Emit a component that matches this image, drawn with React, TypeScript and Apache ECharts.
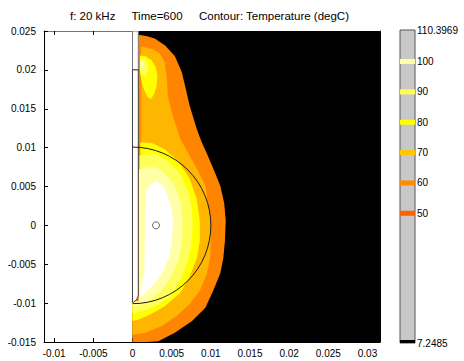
import React, { useEffect, useRef } from 'react';
import * as echarts from 'echarts';

const FONT = '"Liberation Sans", Arial, sans-serif';

// Axes
const xRange = [-0.0113, 0.0316];
const yRange = [-0.015, 0.025];
const xTicks = [-0.01, -0.005, 0, 0.005, 0.01, 0.015, 0.02, 0.025, 0.03];
const yInterval = 0.005;

// Colour bar
const cbRange = [7.2485, 110.3969];
const cbLabels = [7.2485, 50, 60, 70, 80, 90, 100, 110.3969];
const levels = [50, 60, 70, 80, 90, 100];
const levelColors = ['#ff6000', '#ff8c00', '#ffc800', '#ffff00', '#ffff55', '#ffffa5'];

// Filled bands (>=50, >=60, >=70, >=80, >=90, >=100)
const bandColors = ['#ff8400', '#ffb600', '#ffff00', '#ffff5c', '#ffffa8', '#ffffff'];

// Geometry (metres)
const domainRect = [[0, -0.016], [0.04, -0.016], [0.04, 0.026], [0, 0.026]];
const contour50 = [
  [0, 0.0244], [0.0010, 0.0245], [0.0020, 0.0243], [0.0029, 0.0240], [0.0042, 0.0231],
  [0.0054, 0.0218], [0.0063, 0.0197], [0.0067, 0.0180], [0.0073, 0.0154], [0.0082, 0.0124],
  [0.0088, 0.0108], [0.0096, 0.0090], [0.0104, 0.0071], [0.0112, 0.0051], [0.0117, 0.0029],
  [0.0119, 0.0006], [0.0118, -0.0020], [0.0116, -0.0042], [0.0112, -0.0062], [0.0103, -0.0084],
  [0.0093, -0.0106], [0.0076, -0.0123], [0.0054, -0.0138], [0.0033, -0.0149], [0.0019, -0.0154],
  [0.0010, -0.0160], [0, -0.0160],
];
const contour60 = [
  [0.0011, 0.0230], [0.0025, 0.0227], [0.0035, 0.0221], [0.0041, 0.0210], [0.0044, 0.0188],
  [0.0045, 0.0167], [0.0050, 0.0146], [0.0057, 0.0124], [0.0061, 0.0111], [0.0071, 0.0093],
  [0.0082, 0.0073], [0.0093, 0.0051], [0.0096, 0.0029], [0.0100, 0.0008], [0.0100, -0.0020],
  [0.0099, -0.0042], [0.0095, -0.0062], [0.0086, -0.0084], [0.0073, -0.0101], [0.0057, -0.0116],
  [0.0038, -0.0129], [0.0016, -0.0138], [0, -0.0141], [0, -0.0098], [0.0011, -0.0098],
];
const contour70Top = [
  [0.00096, 0.02184], [0.00169, 0.02176], [0.00245, 0.0212], [0.00296, 0.02035], [0.00317, 0.01927],
  [0.00309, 0.01798], [0.00278, 0.01691], [0.00236, 0.01627], [0.00194, 0.01649], [0.00151, 0.01734],
  [0.00117, 0.01842], [0.00096, 0.0197],
];
const contour70Main = [
  [0.0010, 0.0107], [0.0025, 0.0106], [0.0041, 0.0098], [0.0058, 0.0083], [0.0073, 0.0060],
  [0.0082, 0.0034], [0.0086, 0.0006], [0.0086, -0.0020], [0.0082, -0.0043], [0.0073, -0.0066],
  [0.0061, -0.0087], [0.0041, -0.0104], [0.0022, -0.0115], [0.0008, -0.0121], [0, -0.0123],
  [0, -0.0098], [0.0010, -0.0098],
];
const contour80Top = [
  [0.0010, 0.0214], [0.0015, 0.02155], [0.00195, 0.0208], [0.0020, 0.0199], [0.0016, 0.0191],
  [0.0011, 0.0195],
];
const contour80Main = [
  [0.0009, 0.0090], [0.0029, 0.0092], [0.0045, 0.0083], [0.0061, 0.0066], [0.0071, 0.0044],
  [0.0076, 0.0019], [0.0077, -0.0001], [0.0075, -0.0026], [0.0070, -0.0048], [0.0061, -0.0071],
  [0.0048, -0.0091], [0.0029, -0.0104], [0.0010, -0.0111], [0, -0.0113], [0, -0.0098],
  [0.0009, -0.0098],
];
const contour90Top = [
  [0.0010, 0.0212], [0.0014, 0.0211], [0.0015, 0.0203], [0.0012, 0.0198], [0.0010, 0.0201],
];
const contour90Main = [
  [0.0008, 0.0072], [0.0016, 0.0074], [0.0029, 0.0075], [0.0041, 0.0067], [0.0054, 0.0051],
  [0.0062, 0.0028], [0.0064, 0.0003], [0.0063, -0.0023], [0.0058, -0.0046], [0.0049, -0.0066],
  [0.0036, -0.0084], [0.0022, -0.0096], [0.0010, -0.0102], [0, -0.0104], [0, -0.0098],
  [0.0008, -0.0098],
];
const contour100Main = [
  [0.0018, 0.0046], [0.0022, 0.0052], [0.0031, 0.0057], [0.0039, 0.0051], [0.0045, 0.0038],
  [0.0050, 0.0021], [0.0052, 0.0003], [0.0050, -0.0020], [0.0047, -0.0041], [0.0039, -0.0059],
  [0.0029, -0.0074], [0.0017, -0.0086], [0.0010, -0.0093], [0.0010, -0.0085], [0.0015, -0.0059],
  [0.0016, -0.0007], [0.0017, 0.0031],
];
const stripUpper = [[0, 0.0255], [0.00074, 0.0255], [0.00074, 0.02], [0, 0.02]];
const stripLower = [
  [0, 0.02], [0.00074, 0.02], [0.00074, -0.0091], [0.0005, -0.0096], [0.0001, -0.0099], [0, -0.0099],
];
const circleCenter = [0, 0];
const circleRadius = 0.01;
const probePoint = [0.003, 0];

const fieldShapes = [
  { pts: domainRect, fill: '#000000' },
  { pts: contour50, fill: bandColors[0] },
  { pts: contour60, fill: bandColors[1] },
  { pts: contour70Top, fill: bandColors[2] },
  { pts: contour70Main, fill: bandColors[2] },
  { pts: contour80Top, fill: bandColors[3] },
  { pts: contour80Main, fill: bandColors[3] },
  { pts: contour90Top, fill: bandColors[4] },
  { pts: contour90Main, fill: bandColors[4] },
  { pts: contour100Main, fill: bandColors[5] },
  { pts: stripUpper, fill: '#ffffff', stroke: '#777777' },
  { pts: stripLower, fill: '#ffffff', stroke: '#404040' },
];

export default function App() {
  const ref = useRef<HTMLDivElement>(null);
  useEffect(() => {
    const chart = echarts.init(ref.current!, null, { renderer: 'svg' });
    const fmt = (v: number) => String(Number(Number(v).toFixed(5)));
    const option: any = {
      animation: false,
      backgroundColor: '#ffffff',
      textStyle: { fontFamily: FONT },
      graphic: [
        { type: 'text', x: 70, y: 16, style: { text: 'f: 20 kHz', fontSize: 11.5, fontFamily: FONT, fill: '#000', align: 'left', verticalAlign: 'middle' } },
        { type: 'text', x: 131.5, y: 16, style: { text: 'Time=600', fontSize: 11.5, fontFamily: FONT, fill: '#000', align: 'left', verticalAlign: 'middle' } },
        { type: 'text', x: 199, y: 16, style: { text: 'Contour: Temperature (degC)', fontSize: 11.5, fontFamily: FONT, fill: '#000', align: 'left', verticalAlign: 'middle' } },
      ],
      grid: [
        { left: 44, top: 31, width: 336, height: 311, show: false },
        { left: 400, top: 30, width: 15, height: 313, show: true, backgroundColor: '#c8c8c8', borderColor: '#555555', borderWidth: 1 },
      ],
      xAxis: [
        {
          type: 'value', gridIndex: 0, min: xRange[0], max: xRange[1], position: 'bottom',
          axisLine: { show: true, onZero: false, lineStyle: { color: '#000', width: 1 } },
          axisTick: { show: true, inside: true, length: 4, customValues: xTicks, lineStyle: { color: '#000' } },
          axisLabel: { show: true, customValues: xTicks, formatter: fmt, fontSize: 10, color: '#000', fontFamily: FONT, margin: 6 },
          splitLine: { show: false },
        },
        {
          type: 'value', gridIndex: 0, min: xRange[0], max: xRange[1], position: 'top',
          axisLine: { show: true, onZero: false, lineStyle: { color: '#777', width: 1 } },
          axisTick: { show: true, inside: true, length: 4, customValues: xTicks, lineStyle: { color: '#000' } },
          axisLabel: { show: false },
          splitLine: { show: false },
        },
        { type: 'value', gridIndex: 1, min: 0, max: 1, show: false },
      ],
      yAxis: [
        {
          type: 'value', gridIndex: 0, min: yRange[0], max: yRange[1], interval: yInterval, position: 'left',
          axisLine: { show: true, onZero: false, lineStyle: { color: '#000', width: 1 } },
          axisTick: { show: true, inside: true, length: 4, lineStyle: { color: '#000' } },
          axisLabel: { show: true, formatter: fmt, fontSize: 10, color: '#000', fontFamily: FONT, margin: 8 },
          splitLine: { show: false },
        },
        {
          type: 'value', gridIndex: 0, min: yRange[0], max: yRange[1], interval: yInterval, position: 'right',
          axisLine: { show: true, onZero: false, lineStyle: { color: '#000', width: 1 } },
          axisTick: { show: true, inside: true, length: 4, lineStyle: { color: '#000' } },
          axisLabel: { show: false },
          splitLine: { show: false },
        },
        {
          type: 'value', gridIndex: 1, min: cbRange[0], max: cbRange[1], position: 'right',
          axisLine: { show: false }, axisTick: { show: false }, splitLine: { show: false },
          axisLabel: { show: true, customValues: cbLabels, formatter: (v: number) => String(v), fontSize: 10, color: '#000', fontFamily: FONT, margin: 2 },
        },
      ],
      series: [
        {
          type: 'custom', name: 'field', xAxisIndex: 0, yAxisIndex: 0, clip: true, z: 2,
          data: fieldShapes.map((_, i) => [0, 0, i]),
          encode: { x: 0, y: 1 },
          renderItem: (params: any, api: any) => {
            const i = api.value(2);
            const s = fieldShapes[i];
            const cs = params.coordSys;
            const pts = s.pts.map((p) => api.coord(p));
            const clipped = echarts.graphic.clipPointsByRect(pts, { x: cs.x, y: cs.y, width: cs.width, height: cs.height });
            return {
              type: 'polygon', z2: i,
              shape: { points: clipped },
              style: { fill: s.fill, stroke: (s as any).stroke || null, lineWidth: 1 },
            };
          },
        },
        {
          type: 'custom', name: 'coil', xAxisIndex: 0, yAxisIndex: 0, clip: true, z: 3,
          data: [[circleCenter[0], circleCenter[1], circleRadius]],
          renderItem: (params: any, api: any) => {
            const c = api.coord([api.value(0), api.value(1)]);
            const r = api.size([api.value(2), 0])[0];
            return {
              type: 'arc',
              shape: { cx: c[0], cy: c[1], r, startAngle: -Math.PI / 2, endAngle: Math.PI / 2, clockwise: true },
              style: { stroke: '#1a1a1a', fill: null, lineWidth: 1 },
            };
          },
        },
        {
          type: 'scatter', name: 'probe', xAxisIndex: 0, yAxisIndex: 0, z: 4,
          data: [probePoint], symbol: 'circle', symbolSize: 7,
          itemStyle: { color: 'rgba(0,0,0,0)', borderColor: '#404040', borderWidth: 1 },
        },
        {
          type: 'custom', name: 'colorbar', xAxisIndex: 2, yAxisIndex: 2, z: 3,
          data: [[cbRange[0], -1], ...levels.map((l, i) => [l, i])],
          renderItem: (params: any, api: any) => {
            const v = api.value(0);
            const ci = api.value(1);
            const p0 = api.coord([0, v]);
            const p1 = api.coord([1, v]);
            if (ci < 0) {
              return { type: 'rect', shape: { x: p0[0], y: p0[1] - 3, width: p1[0] - p0[0], height: 3 }, style: { fill: '#000' } };
            }
            return { type: 'rect', shape: { x: p0[0], y: p0[1] - 2.5, width: p1[0] - p0[0], height: 5 }, style: { fill: levelColors[ci] } };
          },
        },
      ],
    };
    chart.setOption(option);
    return () => chart.dispose();
  }, []);
  return <div ref={ref} style={{ position: 'absolute', left: 0, top: 0, width: 464, height: 361 }} />;
}
